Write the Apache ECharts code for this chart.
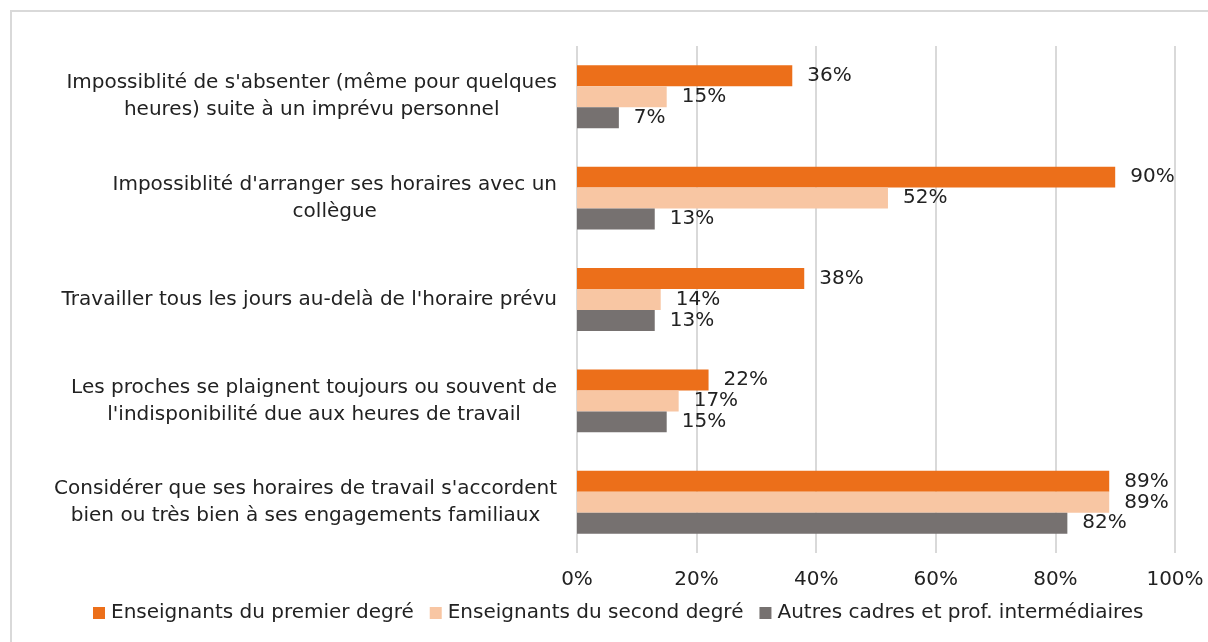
<!DOCTYPE html>
<html>
<head>
<meta charset="utf-8">
<script src="https://cdn.jsdelivr.net/npm/echarts@6/dist/echarts.min.js"></script>
<style>
  html, body { margin: 0; padding: 0; background: #fff; }
  #chart { width: 1208px; height: 642px; }
</style>
</head>
<body>
<div id="chart"></div>
<script>
// catégories (de haut en bas)
const categories = [
  "Impossiblité de s'absenter (même pour quelques\nheures) suite à un imprévu personnel",
  "Impossiblité d'arranger ses horaires avec un\ncollègue",
  "Travailler tous les jours au-delà de l'horaire prévu",
  "Les proches se plaignent toujours ou souvent de\nl'indisponibilité due aux heures de travail",
  "Considérer que ses horaires de travail s'accordent\nbien ou très bien à ses engagements familiaux",
];
const premierDegre = [36, 90, 38, 22, 89];
const secondDegre = [15, 52, 14, 17, 89];
const autresCadres = [7, 13, 13, 15, 82];
const xTicks = [0, 20, 40, 60, 80, 100];

const FONT = 'DejaVu Sans';
const FS = 20;
const chart = echarts.init(document.getElementById('chart'));

const barSeries = (name, data, color) => ({
  name,
  type: 'bar',
  data,
  barGap: '0%',
  barCategoryGap: '38%',
  itemStyle: { color },
  label: {
    show: true,
    position: 'right',
    distance: 15,
    formatter: '{c}%',
    fontFamily: FONT,
    fontSize: FS,
    color: '#222',
  },
});

chart.setOption({
  animation: false,
  textStyle: { fontFamily: FONT },
  graphic: [{
    type: 'rect',
    shape: { x: 11, y: 11, width: 1210, height: 640 },
    style: { fill: 'none', stroke: '#d9d9d9', lineWidth: 2 },
    silent: true,
  }],
  grid: { left: 577, right: 33, top: 46, bottom: 89 },
  legend: {
    bottom: 14,
    left: 88,
    itemWidth: 12,
    itemHeight: 12,
    itemGap: 16,
    icon: 'rect',
    textStyle: { fontFamily: FONT, fontSize: FS, color: '#222', padding: [0, 0, 0, 1] },
    data: ['Enseignants du premier degré', 'Enseignants du second degré', 'Autres cadres et prof. intermédiaires'],
  },
  xAxis: {
    type: 'value',
    min: xTicks[0],
    max: xTicks[xTicks.length - 1],
    interval: 20,
    axisLabel: {
      formatter: '{value}%',
      fontFamily: FONT,
      fontSize: FS,
      color: '#222',
      margin: 17,
    },
    axisLine: { show: false },
    axisTick: { show: false },
    splitLine: { lineStyle: { color: '#d9d9d9', width: 2 } },
  },
  yAxis: {
    type: 'category',
    inverse: true,
    data: categories,
    axisLine: { show: false },
    axisTick: { show: false },
    axisLabel: {
      margin: 20,
      align: 'right',
      // chaque ligne centrée dans le bloc, bloc aligné à droite
      formatter: (v) => v.split('\n').map((l) => '{c|' + l + '}').join('\n'),
      rich: {
        c: {
          align: 'center',
          fontFamily: FONT,
          fontSize: FS,
          color: '#222',
          lineHeight: 27,
        },
      },
    },
  },
  series: [
    barSeries('Enseignants du premier degré', premierDegre, '#ec6f1a'),
    barSeries('Enseignants du second degré', secondDegre, '#f8c6a3'),
    barSeries('Autres cadres et prof. intermédiaires', autresCadres, '#767170'),
  ],
});
</script>
</body>
</html>
